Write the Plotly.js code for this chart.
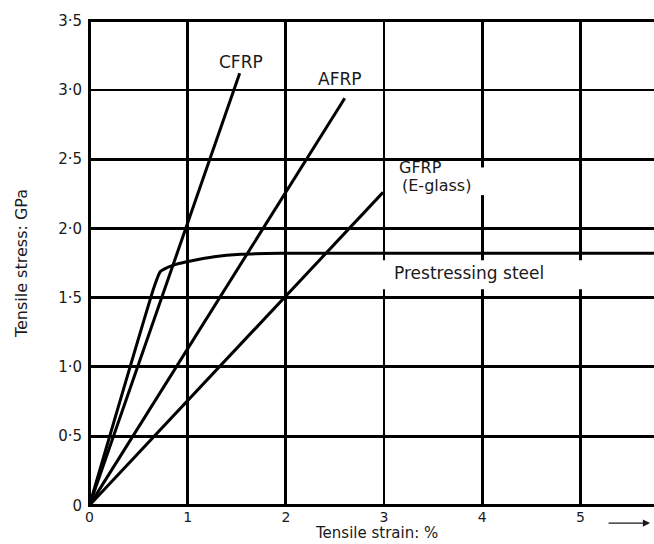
<!DOCTYPE html>
<html>
<head>
<meta charset="utf-8">
<script src="https://cdn.plot.ly/plotly-3.0.1.min.js"></script>
<style>html,body{margin:0;padding:0;background:#fff;}#chart{width:654px;height:544px;}</style>
</head>
<body>
<div id="chart"></div>
<script>
// Data (strain %, stress GPa)
const cfrpStrain = [0, 1.53];
const cfrpStress = [0, 3.12];
const afrpStrain = [0, 2.60];
const afrpStress = [0, 2.94];
const gfrpStrain = [0, 2.99];
const gfrpStress = [0, 2.26];
const steelStrain = [0, 0.66, 0.72, 0.77, 0.89, 1.03, 1.27, 1.54, 1.95, 5.75];
const steelStress = [0, 1.58, 1.687, 1.71, 1.742, 1.764, 1.795, 1.813, 1.82, 1.82];

const xTickVals = [0, 1, 2, 3, 4, 5];
const xTickText = ["0", "1", "2", "3", "4", "5"];
const yTickVals = [0, 0.5, 1.0, 1.5, 2.0, 2.5, 3.0, 3.5];
const yTickText = ["0", "0·5", "1·0", "1·5", "2·0", "2·5", "3·0", "3·5"];
const xTitle = "Tensile strain: %";
const yTitle = "Tensile stress: GPa";

const FONT = "DejaVu Sans, Liberation Sans, Arial, sans-serif";
const TXT = "#1a1a1a";
const lineStyle = {color: "#000", width: 3};

const traces = [
  {x: cfrpStrain, y: cfrpStress, name: "CFRP"},
  {x: afrpStrain, y: afrpStress, name: "AFRP"},
  {x: gfrpStrain, y: gfrpStress, name: "GFRP"},
  {x: steelStrain, y: steelStress, name: "Prestressing steel", line: {color: "#000", width: 3, shape: "spline", smoothing: 0.5}}
].map(t => Object.assign({type: "scatter", mode: "lines", line: lineStyle, hoverinfo: "skip"}, t));

const layout = {
  width: 654, height: 544,
  margin: {l: 88, r: 0, t: 19, b: 37},
  paper_bgcolor: "#fff", plot_bgcolor: "#fff",
  showlegend: false,
  font: {family: FONT, color: TXT, size: 15},
  xaxis: {
    range: [-0.015, 5.75],
    tickvals: xTickVals, ticktext: xTickText,
    showgrid: true, gridcolor: "#000", gridwidth: 2.8,
    zeroline: true, zerolinecolor: "#000", zerolinewidth: 3,
    showline: false, ticks: "",
    ticklabelstandoff: 0,
    tickfont: {family: FONT, size: 14, color: TXT},
    fixedrange: true
  },
  yaxis: {
    range: [-0.012, 3.512],
    tickvals: yTickVals, ticktext: yTickText,
    showgrid: true, gridcolor: "#000", gridwidth: 2.8,
    zeroline: true, zerolinecolor: "#000", zerolinewidth: 3,
    showline: false, ticks: "",
    ticklabelstandoff: 5,
    tickfont: {family: FONT, size: 15, color: TXT},
    title: {text: yTitle, font: {family: FONT, size: 16, color: TXT}, standoff: 26},
    fixedrange: true
  },
  shapes: [
    {type: "rect", xref: "x", yref: "y", x0: 2.96, x1: 5.06, y0: 1.56, y1: 1.77,
     fillcolor: "#fff", line: {width: 0}, layer: "above"},
    {type: "rect", xref: "x", yref: "y", x0: 3.94, x1: 4.06, y0: 2.24, y1: 2.44,
     fillcolor: "#fff", line: {width: 0}, layer: "above"}
  ],
  annotations: [
    {x: 0.509, y: -0.0745, xref: "paper", yref: "paper", yanchor: "bottom", borderpad: 0, text: xTitle, showarrow: false,
     font: {family: FONT, size: 15, color: TXT}},
    {x: 1.54, y: 3.20, text: "CFRP", showarrow: false, font: {family: FONT, size: 17, color: TXT}},
    {x: 2.55, y: 3.08, text: "AFRP", showarrow: false, font: {family: FONT, size: 17, color: TXT}},
    {x: 3.13, y: 2.44, text: "GFRP", xanchor: "left", showarrow: false, font: {family: FONT, size: 16, color: TXT}},
    {x: 3.16, y: 2.31, text: "(E-glass)", xanchor: "left", showarrow: false, font: {family: FONT, size: 16, color: TXT}},
    {x: 3.08, y: 1.68, text: "Prestressing steel", xanchor: "left", showarrow: false, font: {family: FONT, size: 17, color: TXT}},
    {x: 5.71, y: -0.033, xref: "x", yref: "paper", ax: -43, ay: 0, text: "", showarrow: true,
     arrowhead: 2, arrowsize: 1.2, arrowwidth: 1.2, arrowcolor: TXT}
  ]
};

Plotly.newPlot("chart", traces, layout, {staticPlot: true, displayModeBar: false});
</script>
</body>
</html>
